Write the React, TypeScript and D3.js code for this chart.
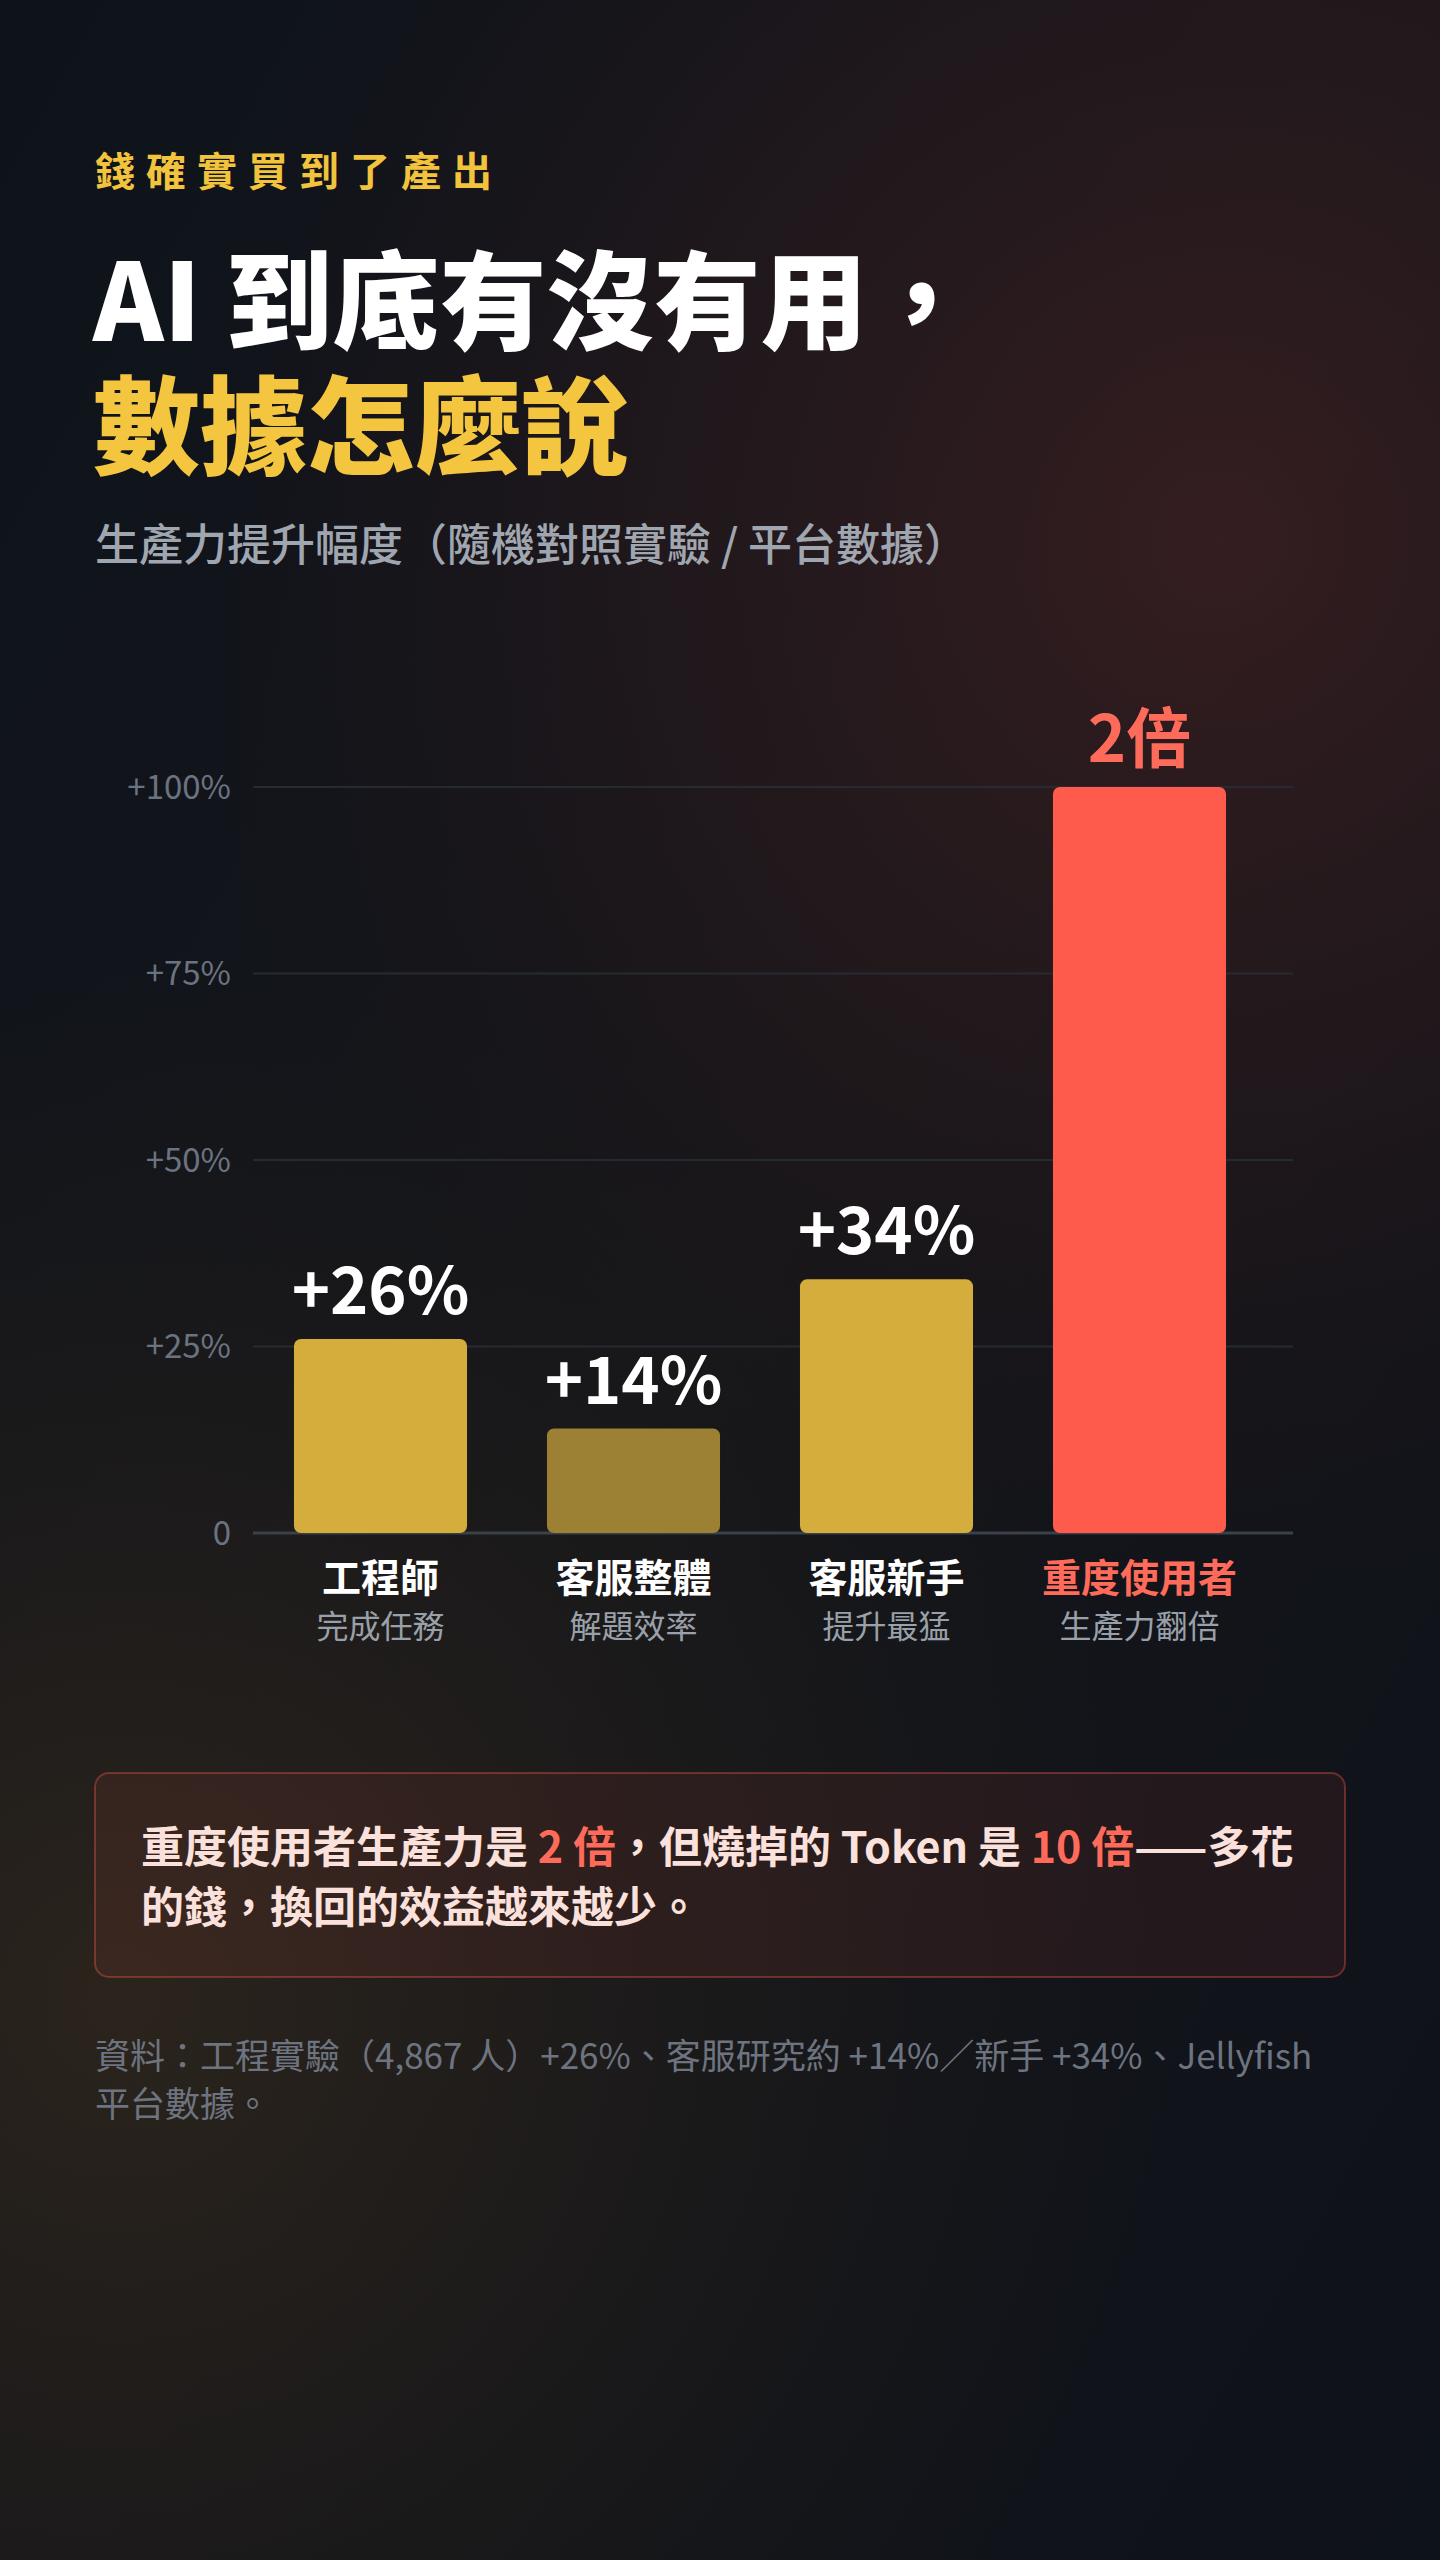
import React from "react";
import * as d3 from "d3";

const categories = ["工程師", "客服整體", "客服新手", "重度使用者"];
const subLabels = ["完成任務", "解題效率", "提升最猛", "生產力翻倍"];
const values = [26, 14, 34, 100];
const valueLabels = ["+26%", "+14%", "+34%", "2倍"];
const barColors = ["#d4ad3c", "#9c8034", "#d4ad3c", "#ff5b4d"];
const valueLabelColors = ["#ffffff", "#ffffff", "#ffffff", "#ff6b5b"];
const categoryColors = ["#ffffff", "#ffffff", "#ffffff", "#ff6b5b"];
const yTicks = [0, 25, 50, 75, 100];
const tickLabels = ["0", "+25%", "+50%", "+75%", "+100%"];

const kicker = "錢確實買到了產出";
const titleLine1 = "AI 到底有沒有用，";
const titleLine2 = "數據怎麼說";
const subtitle = "生產力提升幅度（隨機對照實驗 / 平台數據）";
const footerLines = [
  "資料：工程實驗（4,867 人）+26%、客服研究約 +14%／新手 +34%、Jellyfish",
  "平台數據。",
];

const W = 1440;
const H = 2560;
const FONT = "'Noto Sans CJK TC', 'Noto Sans', sans-serif";

export default function App() {
  const x = d3
    .scaleBand<string>()
    .domain(categories)
    .range([254, 1266])
    .paddingInner(0.316)
    .paddingOuter(0.158);
  const y = d3.scaleLinear().domain([0, 100]).range([1533, 787]);
  const gridX0 = 253;
  const gridX1 = 1293;

  return (
    <div style={{ position: "absolute", left: 0, top: 0, width: W, height: H }}>
      <svg width={W} height={H} style={{ display: "block" }} fontFamily={FONT}>
        <defs>
          <radialGradient id="glowR" cx={1220} cy={540} r={1050} gradientUnits="userSpaceOnUse">
            <stop offset="0" stopColor="#4a2224" stopOpacity="0.6" />
            <stop offset="0.5" stopColor="#3a1e20" stopOpacity="0.35" />
            <stop offset="1" stopColor="#2a1618" stopOpacity="0" />
          </radialGradient>
          <radialGradient id="glowL" cx={120} cy={2000} r={1050} gradientUnits="userSpaceOnUse">
            <stop offset="0" stopColor="#2e261d" stopOpacity="0.9" />
            <stop offset="0.55" stopColor="#241f1b" stopOpacity="0.45" />
            <stop offset="1" stopColor="#1e1b1a" stopOpacity="0" />
          </radialGradient>
          <linearGradient id="base" x1="0" y1="0" x2="1" y2="1">
            <stop offset="0" stopColor="#0e131b" />
            <stop offset="0.5" stopColor="#15161a" />
            <stop offset="1" stopColor="#0e1219" />
          </linearGradient>
        </defs>
        <rect x={0} y={0} width={W} height={H} fill="url(#base)" />
        <rect x={0} y={0} width={W} height={H} fill="url(#glowR)" />
        <rect x={0} y={0} width={W} height={H} fill="url(#glowL)" />

        {/* Header */}
        <text x={95} y={186} fill="#f2c33d" fontSize={40} fontWeight={700} letterSpacing={11}>
          {kicker}
        </text>
        <text x={93} y={341} fill="#ffffff" fontSize={107} fontWeight={900}>
          {titleLine1}
        </text>
        <text x={93} y={466} fill="#f4c53e" fontSize={107} fontWeight={900}>
          {titleLine2}
        </text>
        <text x={95} y={561} fill="#a0a6b0" fontSize={44} fontWeight={500}>
          {subtitle}
        </text>

        {/* Grid */}
        {yTicks.map((t, i) => (
          <g key={t}>
            <line
              x1={gridX0}
              x2={gridX1}
              y1={y(t)}
              y2={y(t)}
              stroke={t === 0 ? "#3b4149" : "#262b32"}
              strokeWidth={t === 0 ? 3 : 2}
            />
            <text
              x={231}
              y={y(t)}
              dy="0.36em"
              textAnchor="end"
              fill="#6b7380"
              fontSize={33}
              fontWeight={400}
            >
              {tickLabels[i]}
            </text>
          </g>
        ))}

        {/* Bars */}
        {categories.map((c, i) => {
          const bx = x(c) as number;
          const bw = x.bandwidth();
          const cx = bx + bw / 2;
          return (
            <g key={c}>
              <rect
                x={bx}
                y={y(values[i])}
                width={bw}
                height={y(0) - y(values[i])}
                rx={7}
                fill={barColors[i]}
              />
              <text
                x={cx}
                y={y(values[i]) - 25}
                textAnchor="middle"
                fill={valueLabelColors[i]}
                fontSize={65}
                fontWeight={700}
              >
                {valueLabels[i]}
              </text>
              <text
                x={cx}
                y={1592}
                textAnchor="middle"
                fill={categoryColors[i]}
                fontSize={39}
                fontWeight={700}
              >
                {c}
              </text>
              <text
                x={cx}
                y={1638}
                textAnchor="middle"
                fill="#9aa0a9"
                fontSize={32}
                fontWeight={400}
              >
                {subLabels[i]}
              </text>
            </g>
          );
        })}

        {/* Callout */}
        <rect
          x={95}
          y={1773}
          width={1250}
          height={204}
          rx={14}
          fill="#ff5b4d"
          fillOpacity={0.08}
          stroke="#ff5b4d"
          strokeOpacity={0.35}
          strokeWidth={2}
        />
        <text x={141} y={1863} fill="#fbe1dc" fontSize={43} fontWeight={700}>
          重度使用者生產力是{" "}
          <tspan fill="#ff6b5b">2 倍</tspan>
          ，但燒掉的 Token 是{" "}
          <tspan fill="#ff6b5b">10 倍</tspan>
          ——多花
        </text>
        <text x={141} y={1923} fill="#fbe1dc" fontSize={43} fontWeight={700}>
          的錢，換回的效益越來越少。
        </text>

        {/* Footer */}
        {footerLines.map((l, i) => (
          <text key={i} x={95} y={2069 + i * 48} fill="#6d7480" fontSize={35} fontWeight={400}>
            {l}
          </text>
        ))}
      </svg>
    </div>
  );
}
